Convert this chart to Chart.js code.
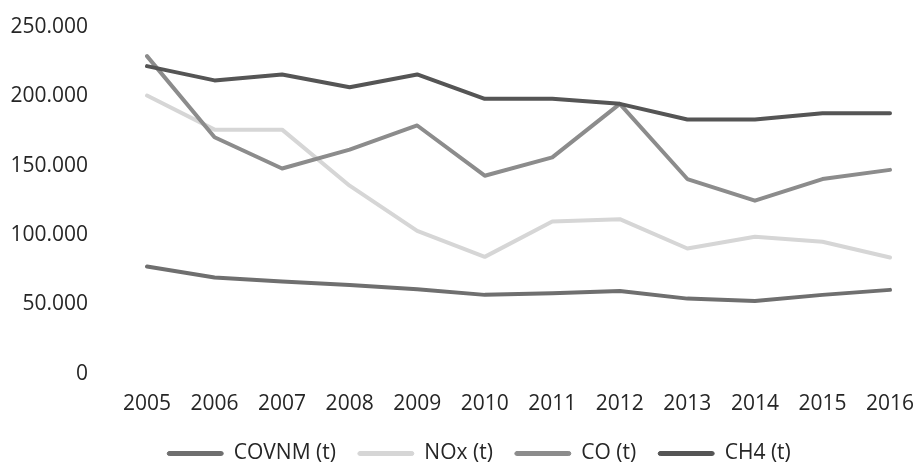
<!DOCTYPE html>
<html lang="fr">
<head>
  <meta charset="UTF-8">
  <title>Émissions 2005-2016</title>
  <style>
    body {
      margin: 0;
      padding: 0;
      background: #fff;
    }
    canvas {
      display: block;
    }
  </style>
</head>
<body>
  <canvas id="lineChart" width="917" height="465"></canvas>

  <script src="https://cdn.jsdelivr.net/npm/chart.js"></script>
  <script>
    const years = ['2005', '2006', '2007', '2008', '2009', '2010', '2011', '2012', '2013', '2014', '2015', '2016'];

    // Émissions en tonnes
    const covnm = [77300, 69400, 66500, 64000, 61000, 56900, 58000, 59700, 54200, 52500, 56900, 60500];
    const nox   = [200600, 176000, 176000, 135600, 103000, 84300, 109800, 111500, 90300, 98800, 95200, 83800];
    const co    = [229000, 170500, 148000, 161600, 179000, 142800, 156000, 194600, 140400, 124800, 140400, 147000];
    const ch4   = [221800, 211500, 215800, 206600, 215800, 198200, 198200, 194600, 183300, 183300, 187900, 187900];

    const yTicks = [0, 50000, 100000, 150000, 200000, 250000];

    const textColor = '#262626';
    const font = { family: 'Open Sans', size: 21 };

    // séparateur de milliers à la française : 250.000
    const fmt = v => v === 0 ? '0' : String(v).replace(/\B(?=(\d{3})+(?!\d))/g, '.');

    function serie(label, data, color, order) {
      return {
        label: label,
        data: data,
        borderColor: color,
        backgroundColor: color,
        borderWidth: 4,
        borderCapStyle: 'round',
        borderJoinStyle: 'round',
        pointRadius: 0,
        tension: 0,
        order: order
      };
    }

    // grille invisible : seule la longueur des graduations sert à espacer les libellés
    const hiddenGrid = len => ({
      display: true,
      drawOnChartArea: false,
      drawTicks: true,
      tickLength: len,
      color: 'rgba(0,0,0,0)'
    });

    // décale la légende un peu vers la droite et vers le bas
    const legendOffset = {
      id: 'legendOffset',
      afterLayout(chart) {
        const l = chart.legend;
        l.left += 34;
        l.right += 34;
        l.top += 4;
        l.bottom += 4;
      }
    };

    new Chart(document.getElementById('lineChart').getContext('2d'), {
      type: 'line',
      data: {
        labels: years,
        datasets: [
          serie('COVNM (t)', covnm, '#6f6f6f', 3),
          serie('NOx (t)', nox, '#d6d6d6', 2),
          serie('CO (t)', co, '#8c8c8c', 1),
          serie('CH4 (t)', ch4, '#555555', 0)
        ]
      },
      plugins: [legendOffset],
      options: {
        responsive: false,
        animation: false,
        layout: {
          padding: { top: 27, right: 27, left: 0, bottom: 0 }
        },
        scales: {
          x: {
            offset: false,
            grid: hiddenGrid(18),
            border: { display: false },
            ticks: { color: textColor, font: font, padding: 0, maxRotation: 0 }
          },
          y: {
            min: 0,
            max: 250000,
            afterBuildTicks: scale => { scale.ticks = yTicks.map(v => ({ value: v })); },
            afterFit: scale => { scale.width = 147; },
            grid: hiddenGrid(59),
            border: { display: false },
            ticks: {
              color: textColor,
              font: font,
              padding: 0,
              callback: v => fmt(v)
            }
          }
        },
        plugins: {
          legend: {
            position: 'bottom',
            maxHeight: 48,
            labels: {
              color: textColor,
              font: font,
              boxWidth: 56,
              boxHeight: 4,
              padding: 22,
              useBorderRadius: true,
              borderRadius: 2,
              sort: (a, b) => a.datasetIndex - b.datasetIndex,
              generateLabels: chart => Chart.defaults.plugins.legend.labels.generateLabels(chart)
                .map(item => Object.assign(item, { lineWidth: 1 }))
            }
          },
          tooltip: { enabled: false }
        }
      }
    });
  </script>
</body>
</html>
